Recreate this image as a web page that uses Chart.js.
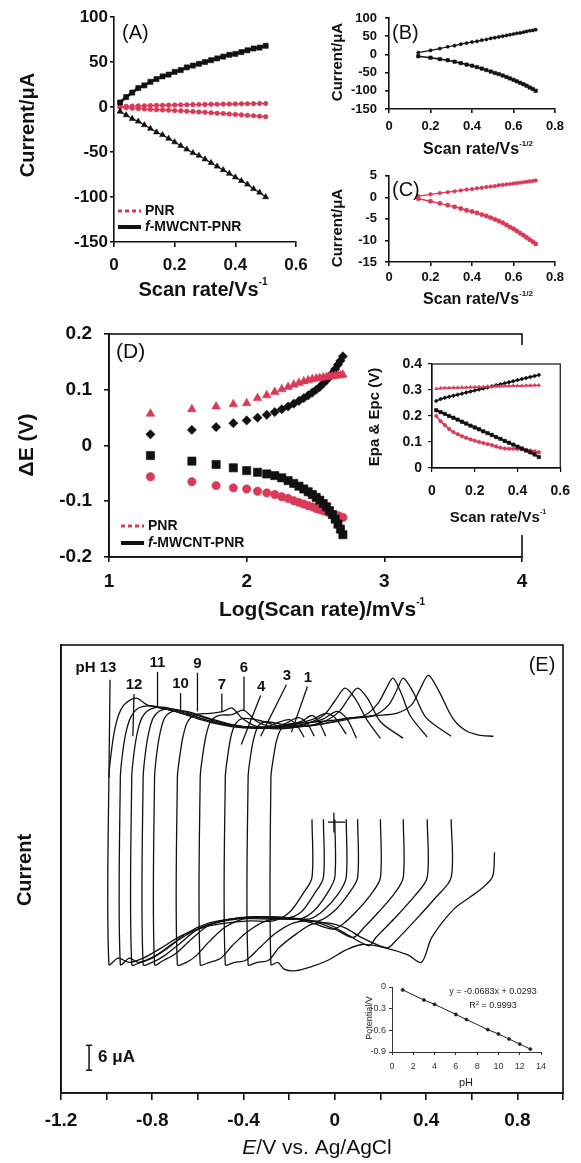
<!DOCTYPE html>
<html>
<head>
<meta charset="utf-8">
<title>PNR / f-MWCNT-PNR voltammetry</title>
<script src="https://cdn.jsdelivr.net/npm/chart.js@4.4.1/dist/chart.umd.min.js"></script>
<style>
  body { margin: 0; background: #fff; }
  #page { position: relative; width: 581px; height: 1163px; overflow: hidden; background: #fff; }
  canvas { position: absolute; }
</style>
</head>
<body>
<div id="page">
  <canvas id="chartA" width="320" height="305" style="left:0;top:0"></canvas>
  <canvas id="chartB" width="261" height="160" style="left:320px;top:0"></canvas>
  <canvas id="chartC" width="261" height="150" style="left:320px;top:160px"></canvas>
  <canvas id="chartD" width="581" height="315" style="left:0;top:310px"></canvas>
  <canvas id="chartDin" width="216" height="190" style="left:365px;top:345px"></canvas>
  <canvas id="chartE" width="581" height="538" style="left:0;top:625px"></canvas>
  <canvas id="chartEin" width="205" height="140" style="left:355px;top:950px"></canvas>
</div>
<script>
/* ---------- data ---------- */
// scan rates (V/s), their square roots and log(mV/s)
const scanRate = [0.02, 0.04, 0.06, 0.08, 0.10, 0.12, 0.14, 0.16, 0.18, 0.20, 0.22, 0.24, 0.26, 0.28, 0.30, 0.32, 0.34, 0.36, 0.38, 0.40, 0.42, 0.44, 0.46, 0.48, 0.50];
const sqrtScanRate = [0.141, 0.200, 0.245, 0.283, 0.316, 0.346, 0.374, 0.400, 0.424, 0.447, 0.469, 0.490, 0.510, 0.529, 0.548, 0.566, 0.583, 0.600, 0.616, 0.632, 0.648, 0.663, 0.678, 0.693, 0.707];
const logScanRate = [1.301, 1.602, 1.778, 1.903, 2.000, 2.079, 2.146, 2.204, 2.255, 2.301, 2.342, 2.380, 2.415, 2.447, 2.477, 2.505, 2.531, 2.556, 2.580, 2.602, 2.623, 2.643, 2.663, 2.681, 2.699];

// peak currents (uA)
const ipaComposite = [5, 11, 16, 21, 24, 28, 31, 34, 36, 39, 41, 44, 46, 48, 50, 52, 54, 56, 58, 59, 61, 63, 65, 66, 68];
const ipcComposite = [-5, -9, -13, -16, -20, -24, -28, -31, -35, -39, -43, -47, -51, -54, -58, -62, -66, -70, -74, -78, -82, -86, -91, -95, -100];
const ipaPNR = [0.3, 0.7, 1.0, 1.2, 1.4, 1.6, 1.8, 1.9, 2.1, 2.2, 2.4, 2.5, 2.6, 2.8, 2.9, 3.0, 3.1, 3.2, 3.3, 3.4, 3.5, 3.6, 3.7, 3.8, 3.9];
const ipcPNR = [-0.3, -0.9, -1.4, -1.8, -2.2, -2.6, -3.0, -3.3, -3.6, -4.0, -4.3, -4.7, -5.1, -5.5, -5.9, -6.4, -6.9, -7.3, -7.8, -8.3, -8.8, -9.3, -9.8, -10.3, -10.8];

// panel D: delta E (V) against log(scan rate)
const dEaPNR = [0.057, 0.065, 0.070, 0.074, 0.076, 0.085, 0.090, 0.096, 0.101, 0.105, 0.109, 0.112, 0.115, 0.117, 0.119, 0.120, 0.121, 0.122, 0.123, 0.124, 0.124, 0.125, 0.126, 0.126, 0.127];
const dEaComposite = [0.020, 0.028, 0.033, 0.040, 0.045, 0.050, 0.055, 0.060, 0.065, 0.070, 0.075, 0.080, 0.085, 0.090, 0.095, 0.100, 0.105, 0.111, 0.117, 0.123, 0.130, 0.137, 0.145, 0.152, 0.160];
const dEcComposite = [-0.018, -0.028, -0.034, -0.040, -0.045, -0.048, -0.051, -0.054, -0.058, -0.063, -0.068, -0.073, -0.078, -0.083, -0.088, -0.093, -0.098, -0.104, -0.110, -0.117, -0.124, -0.132, -0.141, -0.150, -0.160];
const dEcPNR = [-0.056, -0.065, -0.072, -0.076, -0.078, -0.082, -0.085, -0.088, -0.092, -0.095, -0.099, -0.102, -0.105, -0.108, -0.110, -0.113, -0.115, -0.117, -0.119, -0.121, -0.123, -0.125, -0.126, -0.128, -0.129];

// panel D inset: Epa & Epc (V) against scan rate
const epaPNR = [0.305, 0.307, 0.308, 0.308, 0.309, 0.309, 0.310, 0.310, 0.311, 0.311, 0.312, 0.312, 0.313, 0.313, 0.314, 0.314, 0.315, 0.315, 0.316, 0.316, 0.316, 0.317, 0.317, 0.318, 0.318];
const epaComposite = [0.258, 0.265, 0.270, 0.274, 0.278, 0.282, 0.286, 0.290, 0.294, 0.298, 0.302, 0.306, 0.310, 0.314, 0.318, 0.322, 0.326, 0.330, 0.334, 0.338, 0.342, 0.346, 0.350, 0.354, 0.358];
const epcComposite = [0.222, 0.215, 0.208, 0.200, 0.193, 0.186, 0.178, 0.171, 0.163, 0.156, 0.149, 0.141, 0.134, 0.127, 0.119, 0.112, 0.104, 0.097, 0.090, 0.082, 0.075, 0.067, 0.060, 0.052, 0.042];
const epcPNR = [0.200, 0.180, 0.165, 0.150, 0.138, 0.130, 0.122, 0.116, 0.110, 0.105, 0.100, 0.096, 0.092, 0.088, 0.083, 0.078, 0.075, 0.074, 0.074, 0.073, 0.072, 0.070, 0.067, 0.064, 0.060];

// panel E: cyclic voltammograms, [E (V), current (uA, arbitrary zero)]
const pHOrder = ["13", "12", "11", "10", "9", "7", "6", "4", "3", "1"];
const cvTop13 = [[-0.99, 76], [-0.98, 82], [-0.965, 87.5], [-0.945, 91.5], [-0.92, 93.8], [-0.87, 95.2], [-0.82, 93.5], [-0.72, 92.3], [-0.6, 90.5], [-0.5, 89], [-0.4, 88.3], [-0.3, 88.3], [-0.25, 89.3], [-0.2, 90], [-0.165, 88.5], [-0.135, 85.8]];
const cvBot13 = [[-0.99, 31], [-0.95, 32.5], [-0.9, 31.5], [-0.84, 32.5], [-0.76, 35], [-0.67, 38], [-0.57, 40], [-0.47, 41], [-0.37, 41.5], [-0.27, 41.5], [-0.2, 43.5], [-0.14, 48], [-0.1, 52], [-0.1, 66]];
const cvTop12 = [[-0.94, 76], [-0.93, 82], [-0.915, 87], [-0.895, 90.5], [-0.86, 92.8], [-0.8, 93.3], [-0.7, 92], [-0.6, 90.2], [-0.5, 88.8], [-0.4, 88], [-0.3, 88], [-0.22, 89], [-0.16, 90.5], [-0.12, 89], [-0.09, 86]];
const cvBot12 = [[-0.94, 31], [-0.9, 32.5], [-0.86, 31.5], [-0.79, 33], [-0.71, 36], [-0.62, 39], [-0.52, 41], [-0.42, 42], [-0.32, 42], [-0.22, 42], [-0.15, 43.5], [-0.09, 48], [-0.05, 52], [-0.05, 66]];
const cvTop11 = [[-0.89, 76], [-0.88, 82], [-0.865, 87], [-0.845, 90.5], [-0.81, 92.5], [-0.75, 93], [-0.65, 91.5], [-0.55, 89.7], [-0.45, 88.5], [-0.35, 88], [-0.25, 88.3], [-0.15, 89.5], [-0.1, 91], [-0.07, 89.5], [-0.04, 86]];
const cvBot11 = [[-0.89, 31], [-0.85, 31.5], [-0.8, 32.5], [-0.73, 35], [-0.65, 38.5], [-0.55, 41], [-0.45, 42], [-0.35, 42.3], [-0.25, 42], [-0.15, 42], [-0.09, 44], [-0.035, 48], [0, 52], [0, 66]];
const cvTop10 = [[-0.84, 76], [-0.83, 82], [-0.815, 87], [-0.795, 90.5], [-0.76, 92.3], [-0.7, 92.5], [-0.6, 91], [-0.5, 89.3], [-0.4, 88.3], [-0.3, 88], [-0.2, 88.6], [-0.1, 90], [-0.04, 91.5], [0.0, 90.5], [0.05, 86.5]];
const cvBot10 = [[-0.84, 31], [-0.8, 31.5], [-0.75, 33], [-0.68, 36], [-0.6, 39.5], [-0.5, 41.5], [-0.4, 42.3], [-0.3, 42.4], [-0.2, 42.2], [-0.11, 42], [-0.05, 44], [0.015, 48], [0.05, 52], [0.05, 66]];
const cvTop9 = [[-0.79, 76], [-0.78, 82], [-0.765, 87], [-0.745, 90.5], [-0.71, 92], [-0.65, 92], [-0.55, 90.3], [-0.45, 88.8], [-0.35, 88], [-0.25, 88], [-0.15, 88.8], [-0.05, 90.2], [0.01, 92], [0.055, 90], [0.095, 85.5]];
const cvBot9 = [[-0.79, 31], [-0.75, 32], [-0.7, 33.5], [-0.63, 37], [-0.55, 40.5], [-0.45, 42], [-0.35, 42.5], [-0.25, 42.3], [-0.15, 41.8], [-0.07, 41.5], [0.0, 44], [0.06, 48], [0.1, 52], [0.1, 66]];
const cvTop7 = [[-0.69, 76], [-0.68, 81], [-0.665, 86], [-0.645, 89.5], [-0.61, 91.2], [-0.55, 91.5], [-0.49, 92], [-0.45, 92.8], [-0.41, 90.5], [-0.35, 88.5], [-0.25, 87.8], [-0.15, 88.5], [-0.05, 91], [0.0, 94.5], [0.045, 97.6], [0.09, 95], [0.14, 90], [0.2, 85.5]];
const cvBot7 = [[-0.69, 31], [-0.65, 31.5], [-0.61, 33], [-0.55, 36.5], [-0.48, 40], [-0.4, 42], [-0.3, 42.5], [-0.2, 42.2], [-0.1, 41], [-0.01, 39.5], [0.03, 40.5], [0.09, 43.5], [0.16, 48], [0.2, 52], [0.2, 66]];
const cvTop6 = [[-0.59, 76], [-0.58, 81], [-0.565, 86], [-0.545, 89.5], [-0.51, 91], [-0.45, 91.2], [-0.4, 92.3], [-0.34, 89.5], [-0.25, 88], [-0.15, 88.3], [-0.05, 89.5], [0.02, 92], [0.065, 95.5], [0.1, 97.6], [0.145, 95], [0.2, 89.5], [0.3, 85.5]];
const cvBot6 = [[-0.59, 31], [-0.55, 31.5], [-0.5, 32.5], [-0.45, 35.5], [-0.38, 39], [-0.3, 41.5], [-0.2, 42.2], [-0.1, 41.5], [0.0, 39.5], [0.08, 37.5], [0.13, 40], [0.19, 43.5], [0.26, 48], [0.3, 52], [0.3, 66]];
const cvTop4 = [[-0.48, 76], [-0.47, 81], [-0.455, 86], [-0.435, 89], [-0.4, 90.3], [-0.33, 89.8], [-0.25, 88.5], [-0.15, 88.3], [-0.05, 89], [0.05, 90.3], [0.13, 91], [0.19, 94], [0.225, 97.5], [0.255, 100], [0.29, 96.5], [0.33, 91], [0.405, 85.8]];
const cvBot4 = [[-0.48, 31], [-0.44, 31.5], [-0.39, 32], [-0.33, 35], [-0.26, 38.5], [-0.18, 41], [-0.1, 41.5], [-0.02, 40.5], [0.06, 38], [0.15, 35.5], [0.18, 37.5], [0.26, 42], [0.35, 47.5], [0.405, 52], [0.405, 66]];
const cvTop3 = [[-0.38, 76], [-0.37, 81], [-0.355, 85.5], [-0.335, 88.5], [-0.3, 89.5], [-0.22, 88.8], [-0.12, 88.5], [-0.02, 89.3], [0.08, 90.3], [0.17, 91], [0.235, 93.5], [0.275, 97.5], [0.3, 100], [0.345, 96.5], [0.4, 90.5], [0.51, 86]];
const cvBot3 = [[-0.38, 31], [-0.34, 31.5], [-0.29, 32], [-0.245, 35], [-0.17, 38.3], [-0.1, 40.7], [-0.03, 41], [0.045, 39.8], [0.12, 37.4], [0.23, 35], [0.265, 36.6], [0.35, 41.5], [0.44, 47], [0.51, 52], [0.51, 66]];
const cvTop1 = [[-0.28, 76], [-0.27, 80.5], [-0.255, 85], [-0.235, 87.8], [-0.2, 89], [-0.12, 89.3], [-0.02, 89.8], [0.08, 90.5], [0.18, 91], [0.27, 91.5], [0.335, 93.5], [0.375, 97.5], [0.41, 100.7], [0.455, 97], [0.515, 90.5], [0.57, 87.5], [0.63, 86.3], [0.695, 86]];
const cvBot1 = [[-0.28, 31], [-0.25, 31.5], [-0.22, 29.8], [-0.17, 29.5], [-0.1, 30.5], [-0.03, 32], [0.05, 34.5], [0.12, 35.8], [0.22, 35], [0.32, 33.3], [0.38, 31.5], [0.425, 37.5], [0.525, 44.5], [0.625, 48.5], [0.69, 52], [0.7, 58]];

// panel E inset: peak potential vs pH
const phValues = [1, 3, 4, 6, 7, 9, 10, 11, 12, 13];
const peakPotential = [-0.04, -0.18, -0.24, -0.38, -0.45, -0.59, -0.65, -0.72, -0.79, -0.86];

/* ---------- helpers ---------- */
const INK = "#111";
const RED = "#d93a58";
const FONT = '"Liberation Sans", Arial, sans-serif';
const eTickLabels = ["-1.2", "-0.8", "-0.4", "0", "0.4", "0.8"];

const zip = (xs, ys) => xs.map((x, i) => ({ x: x, y: ys[i] }));
const pairs = (arr) => arr.map((p) => ({ x: p[0], y: p[1] }));

function series(data, color, style, r, lw, line) {
  return {
    data: data, showLine: line !== false, borderColor: color, backgroundColor: color,
    borderWidth: lw, pointStyle: style, pointRadius: r, pointBorderWidth: 0.6,
    pointBorderColor: color, pointBackgroundColor: color,
  };
}

function axis(o) {
  const left = o.pos === "left";
  const col = o.color || INK;
  return {
    type: "linear", position: o.pos, min: o.min, max: o.max,
    border: { display: true, color: col, width: o.lw || 1.6 },
    grid: { drawOnChartArea: false, drawTicks: o.tl !== 0, tickLength: o.tl === undefined ? 5 : o.tl, color: col, lineWidth: o.lw || 1.6 },
    ticks: {
      display: !o.hide, stepSize: o.step, color: col, padding: o.pad === undefined ? 3 : o.pad,
      maxRotation: 0, autoSkip: false,
      font: { family: FONT, size: o.fs || 12, weight: o.weight || "bold" },
      callback: o.fmt || ((v) => String(+v.toFixed(2))),
    },
    afterFit: (s) => { if (left) s.width = o.fit; else s.height = o.fit; },
  };
}

function rich(ctx, parts, x, y, align) {
  let w = 0;
  parts.forEach((p) => { ctx.font = p[1]; w += ctx.measureText(p[0]).width; });
  let cx = align === "center" ? x - w / 2 : align === "right" ? x - w : x;
  ctx.textAlign = "left";
  ctx.textBaseline = "middle";
  parts.forEach((p) => { ctx.font = p[1]; ctx.fillText(p[0], cx, y + (p[2] || 0)); cx += ctx.measureText(p[0]).width; });
}
function vrich(ctx, parts, x, y) {
  ctx.save(); ctx.translate(x, y); ctx.rotate(-Math.PI / 2); rich(ctx, parts, 0, 0, "center"); ctx.restore();
}
function seg(ctx, x1, y1, x2, y2) { ctx.beginPath(); ctx.moveTo(x1, y1); ctx.lineTo(x2, y2); ctx.stroke(); }
function box(ctx, a, lw) { ctx.lineWidth = lw || 1.6; ctx.strokeRect(a.left, a.top, a.right - a.left, a.bottom - a.top); }

function legendPair(ctx, x, y1, y2, fs) {
  ctx.save();
  ctx.lineWidth = 3; ctx.strokeStyle = RED; ctx.setLineDash([4, 3]);
  seg(ctx, x, y1, x + 23, y1);
  ctx.setLineDash([]); ctx.strokeStyle = INK; ctx.lineWidth = 4;
  seg(ctx, x, y2, x + 23, y2);
  ctx.fillStyle = INK;
  rich(ctx, [["PNR", "bold " + fs + "px " + FONT]], x + 27, y1, "left");
  rich(ctx, [["f", "italic bold " + fs + "px " + FONT], ["-MWCNT-PNR", "bold " + fs + "px " + FONT]], x + 27, y2, "left");
  ctx.restore();
}

const deco = (fn, bg) => ({
  id: "deco",
  beforeDraw(c) { if (bg) { c.ctx.save(); c.ctx.fillStyle = "#fff"; c.ctx.fillRect(0, 0, c.width, c.height); c.ctx.restore(); } },
  afterDraw(c) { const ctx = c.ctx; ctx.save(); ctx.fillStyle = INK; ctx.strokeStyle = INK; fn(ctx, c, c.scales.x, c.scales.y, c.chartArea); ctx.restore(); },
});

const base = (pad, x, y) => ({
  responsive: false, animation: false,
  layout: { padding: pad },
  plugins: { legend: { display: false }, tooltip: { enabled: false } },
  scales: { x: x, y: y },
});

const B20 = "bold 20px " + FONT;

/* ---------- (A) current vs scan rate ---------- */
new Chart(document.getElementById("chartA"), {
  type: "scatter",
  data: { datasets: [
    series(zip(scanRate, ipaComposite), INK, "rect", 3.6, 2.6),
    series(zip(scanRate, ipcComposite), INK, "triangle", 3.4, 1.2),
    series(zip(scanRate, ipaPNR), RED, "circle", 2.3, 1.4),
    series(zip(scanRate, ipcPNR), RED, "circle", 2.3, 1.4),
  ] },
  options: base({ left: 4, right: 24, top: 17, bottom: 23 },
    axis({ pos: "bottom", min: 0, max: 0.6, step: 0.2, fit: 40, fs: 17, tl: 5, pad: 8 }),
    axis({ pos: "left", min: -150, max: 100, step: 50, fit: 110, fs: 17, tl: 4, pad: 2 })),
  plugins: [deco((ctx) => {
    rich(ctx, [["(A)", "20px " + FONT]], 122, 33, "left");
    legendPair(ctx, 118, 211, 227, 14);
    rich(ctx, [["Scan rate/Vs", B20], ["-1", "bold 10px " + FONT, -8]], 203, 290, "center");
    vrich(ctx, [["Current/μA", B20]], 28, 125);
  })],
});

/* ---------- (B) composite current vs sqrt(scan rate) ---------- */
new Chart(document.getElementById("chartB"), {
  type: "scatter",
  data: { datasets: [
    series(zip(sqrtScanRate, ipaComposite), INK, "circle", 1.6, 1.2),
    series(zip(sqrtScanRate, ipcComposite), INK, "rect", 2.4, 1.6),
  ] },
  options: base({ left: 4, right: 26, top: 18, bottom: 21 },
    axis({ pos: "bottom", min: 0, max: 0.8, step: 0.2, fit: 30, fs: 13, tl: 4, pad: 6 }),
    axis({ pos: "left", min: -150, max: 100, step: 50, fit: 65, fs: 13, tl: 4, pad: 8 })),
  plugins: [deco((ctx) => {
    rich(ctx, [["(B)", "20px " + FONT]], 72, 33, "left");
    rich(ctx, [["Scan rate/Vs", "bold 16px " + FONT], ["-1/2", "bold 8px " + FONT, -6]], 158, 150, "center");
    vrich(ctx, [["Current/μA", "bold 15px " + FONT]], 18, 62);
  })],
});

/* ---------- (C) PNR current vs sqrt(scan rate) ---------- */
new Chart(document.getElementById("chartC"), {
  type: "scatter",
  data: { datasets: [
    series(zip(sqrtScanRate, ipaPNR), RED, "circle", 1.8, 1.3),
    series(zip(sqrtScanRate, ipcPNR), RED, "circle", 2.2, 1.5),
  ] },
  options: base({ left: 4, right: 26, top: 12, bottom: 20 },
    axis({ pos: "bottom", min: 0, max: 0.8, step: 0.2, fit: 28, fs: 13, tl: 4, pad: 4 }),
    axis({ pos: "left", min: -15, max: 5, step: 5, fit: 65, fs: 13, tl: 4, pad: 8 })),
  plugins: [deco((ctx) => {
    rich(ctx, [["(C)", "20px " + FONT]], 72, 30, "left");
    rich(ctx, [["Scan rate/Vs", "bold 16px " + FONT], ["-1/2", "bold 8px " + FONT, -6]], 158, 140, "center");
    vrich(ctx, [["Current/μA", "bold 15px " + FONT]], 18, 68);
  })],
});

/* ---------- (D) delta E vs log(scan rate) ---------- */
new Chart(document.getElementById("chartD"), {
  type: "scatter",
  data: { datasets: [
    series(zip(logScanRate, dEaPNR), RED, "triangle", 5, 1, false),
    series(zip(logScanRate, dEaComposite), INK, "rectRot", 4.6, 1, false),
    series(zip(logScanRate, dEcComposite), INK, "rect", 5.8, 1, false),
    series(zip(logScanRate, dEcPNR), RED, "circle", 4.2, 1, false),
  ] },
  options: base({ left: 4, right: 59, top: 24, bottom: 20 },
    axis({ pos: "bottom", min: 1, max: 4, step: 1, fit: 48, fs: 19, tl: 5, pad: 8 }),
    axis({ pos: "left", min: -0.2, max: 0.2, step: 0.1, fit: 105, fs: 19, tl: 5, pad: 12 })),
  plugins: [deco((ctx, c, x, y, a) => {
    box(ctx, a);
    rich(ctx, [["(D)", "21px " + FONT]], 116, 42, "left");
    legendPair(ctx, 121, 216, 233, 14);
    rich(ctx, [["Log(Scan rate)/mVs", "bold 21px " + FONT], ["-1", "bold 10px " + FONT, -8]], 322, 300, "center");
    vrich(ctx, [["ΔE (V)", "bold 21px " + FONT]], 27, 135);
  })],
});

/* ---------- (D) inset: Epa & Epc vs scan rate ---------- */
new Chart(document.getElementById("chartDin"), {
  type: "scatter",
  data: { datasets: [
    series(zip(scanRate, epaPNR), RED, "triangle", 2, 1.5),
    series(zip(scanRate, epaComposite), INK, "rectRot", 2, 1.5),
    series(zip(scanRate, epcComposite), INK, "rect", 2.4, 2),
    series(zip(scanRate, epcPNR), RED, "circle", 1.8, 1.6),
  ] },
  options: base({ left: 2, right: 15, top: 19, bottom: 27 },
    axis({ pos: "bottom", min: 0, max: 0.6, step: 0.2, fit: 40, fs: 14, tl: 4, pad: 11, lw: 1.2 }),
    axis({ pos: "left", min: 0, max: 0.4, step: 0.1, fit: 65, fs: 14, tl: 4, pad: 6, lw: 1.2 })),
  plugins: [deco((ctx, c, x, y, a) => {
    box(ctx, a, 1.2);
    rich(ctx, [["Scan rate/Vs", "bold 15px " + FONT], ["-1", "bold 7px " + FONT, -6]], 133, 173, "center");
    vrich(ctx, [["Epa & Epc (V)", "bold 15px " + FONT]], 10, 72);
  }, true)],
});

/* ---------- (E) CVs at different pH ---------- */
const cvSets = [
  [cvTop13, cvBot13], [cvTop12, cvBot12], [cvTop11, cvBot11], [cvTop10, cvBot10], [cvTop9, cvBot9],
  [cvTop7, cvBot7], [cvTop6, cvBot6], [cvTop4, cvBot4], [cvTop3, cvBot3], [cvTop1, cvBot1],
];
// one polyline per voltammogram: top branch (right to left), down the left edge, bottom branch
const cvDatasets = cvSets.map((s) => ({
  data: pairs(s[0].slice().reverse().concat(s[1])),
  showLine: true, borderColor: INK, borderWidth: 1.3, pointRadius: 0, tension: 0.3,
}));

// label anchors and leader lines, in data units (E / V, current)
const phLabelAt = [[-1.047, 102.5], [-0.88, 98.4], [-0.777, 103.7], [-0.676, 98.6], [-0.602, 103.4], [-0.495, 98.4], [-0.398, 102.5], [-0.323, 97.9], [-0.21, 100.5], [-0.118, 100]];
const phLeaders = [
  [-0.985, 99.6, -0.99, 76], [-0.88, 96.2, -0.885, 86], [-0.777, 101.5, -0.777, 93.3], [-0.676, 96.4, -0.676, 92.2],
  [-0.602, 101.3, -0.602, 92], [-0.495, 96.3, -0.495, 91.8], [-0.398, 100.4, -0.398, 92.2],
  [-0.325, 95.8, -0.41, 84], [-0.212, 98.4, -0.325, 86], [-0.12, 98, -0.19, 87],
];

new Chart(document.getElementById("chartE"), {
  type: "scatter",
  data: { datasets: cvDatasets },
  options: base({ left: 4, right: 18, top: 20, bottom: 18 },
    axis({ pos: "bottom", min: -1.2, max: 1.0, step: 0.2, fit: 52, fs: 19, tl: 7, pad: 9,
      fmt: (v) => { const s = String(+v.toFixed(1)); return eTickLabels.includes(s) ? s : ""; } }),
    axis({ pos: "left", min: 0, max: 108, step: 20, fit: 57, tl: 0, hide: true })),
  plugins: [deco((ctx, c, x, y, a) => {
    box(ctx, a);
    const px = (v) => x.getPixelForValue(v), py = (v) => y.getPixelForValue(v);
    ctx.lineWidth = 1.3;
    phLeaders.forEach((l) => seg(ctx, px(l[0]), py(l[1]), px(l[2]), py(l[3])));
    const F = "bold 15px " + FONT;
    pHOrder.forEach((p, i) => rich(ctx, [[i === 0 ? "pH " + p : p, F]], px(phLabelAt[i][0]), py(phLabelAt[i][1]), "center"));
    // zero-current cross
    seg(ctx, px(-0.03), py(65.3), px(0.045), py(65.3));
    seg(ctx, px(-0.004), py(67.6), px(-0.004), py(62.8));
    // 6 uA scale bar
    const bx = px(-1.077);
    ctx.lineWidth = 1.5;
    seg(ctx, bx, py(5.5), bx, py(11.5));
    seg(ctx, bx - 3, py(5.5), bx + 3, py(5.5));
    seg(ctx, bx - 3, py(11.5), bx + 3, py(11.5));
    rich(ctx, [["6 μA", "bold 17px " + FONT]], bx + 9, py(8.5), "left");
    rich(ctx, [["(E)", "20px " + FONT]], 542, 40, "center");
    rich(ctx, [["E", "italic 21px " + FONT], ["/V vs. Ag/AgCl", "21px " + FONT]], 317, 523, "center");
    vrich(ctx, [["Current", B20]], 25, 245);
  })],
});

/* ---------- (E) inset: peak potential vs pH ---------- */
new Chart(document.getElementById("chartEin"), {
  type: "scatter",
  data: { datasets: [series(zip(phValues, peakPotential), "#222", "circle", 1.6, 1)] },
  options: base({ left: 2, right: 19, top: 37, bottom: 16 },
    axis({ pos: "bottom", min: 0, max: 14, step: 2, fit: 22, fs: 9, tl: 3, pad: 6, lw: 1, color: "#333", weight: "normal" }),
    axis({ pos: "left", min: -0.9, max: 0, step: 0.3, fit: 35, fs: 9, tl: 3, pad: 3, lw: 1, color: "#333", weight: "normal" })),
  plugins: [deco((ctx) => {
    ctx.fillStyle = "#222";
    const f = "9px " + FONT;
    rich(ctx, [["y = -0.0683x + 0.0293", f]], 138, 42, "center");
    rich(ctx, [["R", f], ["2", "6px " + FONT, -3], [" = 0.9993", f]], 138, 56, "center");
    rich(ctx, [["pH", "11px " + FONT]], 111, 133, "center");
    vrich(ctx, [["Potential/V", f]], 15, 68);
  })],
});
</script>
</body>
</html>
